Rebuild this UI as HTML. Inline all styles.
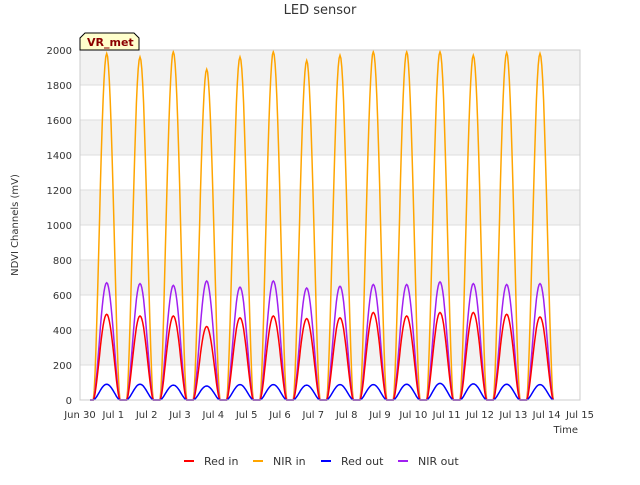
<!DOCTYPE html>
<html><head><meta charset="utf-8"><style>
body{margin:0;background:#fff;font-family:"Liberation Sans","DejaVu Sans",sans-serif;}
svg text{font-family:"DejaVu Sans","Liberation Sans",sans-serif;}
</style></head><body>
<svg id="chart" width="640" height="480" viewBox="0 0 640 480">
<text x="320" y="14" text-anchor="middle" font-size="13" fill="#333">LED sensor</text>
<g id="bands"></g><g id="grid"></g><g id="series"></g><g id="axes"></g>
<text transform="translate(18,225) rotate(-90)" text-anchor="middle" font-size="10" fill="#333">NDVI Channels (mV)</text>
<text x="578" y="433" text-anchor="end" font-size="10" fill="#333">Time</text>
<g><path d="M80,50 L80,38 L85,33 L134,33 L139,38 L139,50 Z" fill="#ffffcc" stroke="#000" stroke-width="1"/><text x="87" y="46" font-size="11" font-weight="bold" fill="#8b0000">VR_met</text></g>
<g id="legend"></g>
</svg>
<script>
const days=["Jun 30","Jul 1","Jul 2","Jul 3","Jul 4","Jul 5","Jul 6","Jul 7","Jul 8","Jul 9","Jul 10","Jul 11","Jul 12","Jul 13","Jul 14","Jul 15"];
const yTicks=[0,200,400,600,800,1000,1200,1400,1600,1800,2000];
const seriesNames=["Red in","NIR in","Red out","NIR out"];
const seriesColors=["#ff0000","#ffa500","#0000ff","#a020f0"];
const nirInPeaks=[1980,1960,1990,1890,1960,1990,1940,1970,1990,1990,1990,1970,1985,1980];
const redInPeaks=[490,480,480,420,470,480,465,470,500,480,500,500,490,475];
const redOutPeaks=[90,90,85,80,88,88,85,88,88,90,95,92,90,88];
const nirOutPeaks=[670,665,655,680,645,680,640,650,660,660,675,665,660,665];
const peaksBySeries=[redInPeaks,nirInPeaks,redOutPeaks,nirOutPeaks];
const drawOrder=[1,3,0,2];
const X0=80,X1=580,Y0=400,Y1=50;
const xs=d=>X0+(d/15)*(X1-X0);
const ys=v=>Y0-(v/2000)*(Y0-Y1);
const NS="http://www.w3.org/2000/svg";
function mk(t,a,p){const e=document.createElementNS(NS,t);for(const k in a)e.setAttribute(k,a[k]);p.appendChild(e);return e;}
const bands=document.getElementById('bands'),grid=document.getElementById('grid'),axes=document.getElementById('axes'),ser=document.getElementById('series'),leg=document.getElementById('legend');
for(let i=0;i<yTicks.length-1;i++){if(i%2===1){const r=mk('rect',{x:X0,y:ys(yTicks[i+1]),width:X1-X0,height:ys(yTicks[i])-ys(yTicks[i+1]),fill:'#f2f2f2'},bands);

}}
yTicks.forEach(v=>{const l=mk('line',{x1:X0,x2:X1,y1:ys(v),y2:ys(v),stroke:'#dddddd'},grid);


const t=mk('text',{x:X0-8,y:ys(v)+4,'text-anchor':'end','font-size':10,fill:'#333'},axes);t.textContent=v;

});
days.forEach((d,i)=>{const t=mk('text',{x:xs(i),y:Y0+18,'text-anchor':'middle','font-size':10,fill:'#333'},axes);t.textContent=d;

});
const fr=mk('rect',{x:X0,y:Y1,width:X1-X0,height:Y0-Y1,fill:'none',stroke:'#cccccc'},axes);


drawOrder.forEach(si=>{const pk=peaksBySeries[si];let pts=[];
pts.push([xs(0.3),ys(0)]);
pk.forEach((p,d)=>{const c=d+0.8,h=0.4;pts.push([xs(c-h),ys(0)]);
for(let k=0;k<=30;k++){const t=k/30;pts.push([xs(c-h+2*h*t),ys(p*Math.pow(Math.sin(Math.PI*t),1.6))]);}
pts.push([xs(c+h),ys(0)]);});
pts.push([xs(14.2),ys(0)]);
const pl=mk('polyline',{points:pts.map(p=>p[0].toFixed(1)+','+p[1].toFixed(1)).join(' '),fill:'none',stroke:seriesColors[si],'stroke-width':1.5},ser);

});
const lx=[184,253,321,398];
seriesNames.forEach((n,i)=>{const g=mk('g',{},leg);


mk('line',{x1:lx[i],x2:lx[i]+10,y1:461,y2:461,stroke:seriesColors[i],'stroke-width':2},g);
const t=mk('text',{x:lx[i]+20,y:465,'font-size':11,fill:'#333'},g);t.textContent=n;});
</script>
</body></html>
